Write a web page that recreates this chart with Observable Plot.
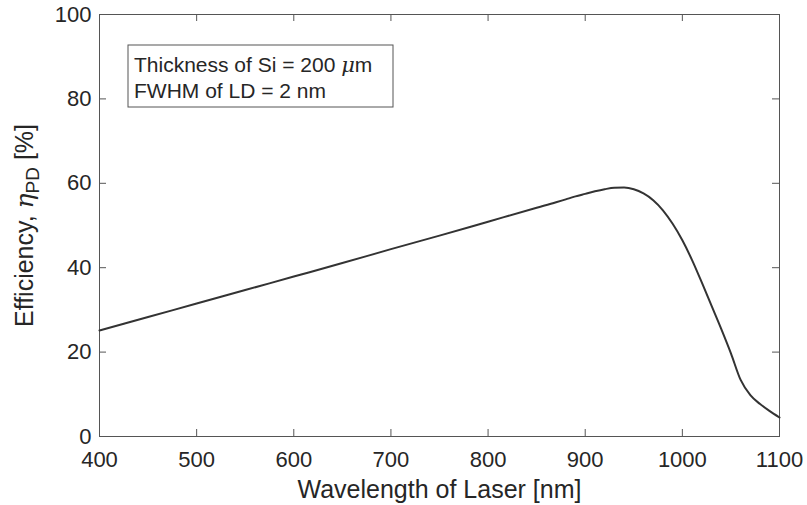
<!DOCTYPE html>
<html>
<head>
<meta charset="utf-8">
<script src="https://cdn.jsdelivr.net/npm/d3@7"></script>
<script src="https://cdn.jsdelivr.net/npm/@observablehq/plot@0.6"></script>
<style>
  html, body { margin: 0; padding: 0; background: #fff; }
  #chart svg { display: block; }
</style>
</head>
<body>
<div id="chart"></div>
<script>
// Data
const wavelength = [400, 450, 500, 550, 600, 650, 700, 750, 800, 850, 870, 880, 890, 900, 910, 920, 930, 940, 950, 960, 970, 980, 990, 1000, 1010, 1020, 1030, 1040, 1050, 1060, 1070, 1080, 1090, 1100];
const efficiency = [25.1, 28.3, 31.5, 34.7, 37.9, 41.1, 44.4, 47.6, 50.9, 54.2, 55.5, 56.2, 56.9, 57.5, 58.1, 58.6, 58.95, 59.0, 58.6, 57.6, 56.0, 53.6, 50.4, 46.5, 41.8, 36.5, 31.0, 25.5, 19.7, 13.4, 9.8, 7.7, 6.0, 4.5];
const xTicks = [400, 500, 600, 700, 800, 900, 1000, 1100];
const yTicks = [0, 20, 40, 60, 80, 100];
const xLabel = "Wavelength of Laser [nm]";
const yLabel = "Efficiency, ηPD [%]";
const legendLines = ["Thickness of Si = 200 μm", "FWHM of LD = 2 nm"];

const data = wavelength.map((w, i) => ({w, e: efficiency[i]}));
const axisColor = "#555";
const textColor = "#262626";
const font = "'Liberation Sans', Arial, Helvetica, sans-serif";

const W = 807, H = 505, mL = 99, mR = 28, mT = 14, mB = 69;
const plotW = W - mL - mR, plotH = H - mT - mB, tick = 7;
const xDom = [400, 1100], yDom = [0, 100];
// tick length expressed in data units of each scale
const tX = tick * (xDom[1] - xDom[0]) / plotW;
const tY = tick * (yDom[1] - yDom[0]) / plotH;

const chart = Plot.plot({
  width: W,
  height: H,
  marginLeft: mL,
  marginRight: mR,
  marginTop: mT,
  marginBottom: mB,
  style: {fontFamily: font, color: textColor, background: "#fff"},
  x: {domain: xDom},
  y: {domain: yDom},
  marks: [
    // inward ticks on all four sides
    Plot.ruleX(xTicks, {x: d => d, y1: yDom[0], y2: yDom[0] + tY, stroke: axisColor}),
    Plot.ruleX(xTicks, {x: d => d, y1: yDom[1] - tY, y2: yDom[1], stroke: axisColor}),
    Plot.ruleY(yTicks, {y: d => d, x1: xDom[0], x2: xDom[0] + tX, stroke: axisColor}),
    Plot.ruleY(yTicks, {y: d => d, x1: xDom[1] - tX, x2: xDom[1], stroke: axisColor}),
    Plot.frame({stroke: axisColor, strokeWidth: 1}),
    Plot.axisX({anchor: "bottom", ticks: xTicks, tickSize: 0, tickPadding: 15, fontSize: 22, fill: textColor, label: null, tickFormat: d => String(d)}),
    Plot.axisY({anchor: "left", ticks: yTicks, tickSize: 0, tickPadding: 8, fontSize: 22, fill: textColor, label: null, tickFormat: d => String(d)}),
    Plot.line(data, {x: "w", y: "e", stroke: "#333", strokeWidth: 2, curve: "monotone-x"}),
    Plot.text([xLabel], {frameAnchor: "bottom", dy: 61, fontSize: 25, fill: textColor}),
    Plot.text([yLabel], {frameAnchor: "left", textAnchor: "middle", dx: -75, rotate: -90, fontSize: 25, fill: textColor})
  ]
});

document.getElementById("chart").appendChild(chart);

// Rich text for the y label: italic eta with PD subscript
const svg = d3.select(chart);
svg.selectAll("text").filter(function() { return this.textContent === yLabel; }).each(function() {
  const t = d3.select(this);
  t.text(null);
  t.append("tspan").text("Efficiency, ");
  t.append("tspan").attr("font-style", "italic").attr("font-family", "'DejaVu Serif', serif").text("η");
  t.append("tspan").attr("font-size", 19).attr("dy", 6).text("PD");
  t.append("tspan").attr("dy", -6).text(" [%]");
});

// Annotation box in the upper left of the axes
const g = svg.append("g").attr("font-family", font).attr("font-size", 21)
  .attr("fill", textColor).attr("text-anchor", "start");
g.append("rect").attr("x", 128).attr("y", 45).attr("width", 265).attr("height", 62)
  .attr("fill", "#fff").attr("stroke", axisColor).attr("stroke-width", 1);
const t1 = g.append("text").attr("x", 134).attr("y", 72);
t1.append("tspan").text("Thickness of Si = 200 ");
t1.append("tspan").attr("font-style", "italic").attr("font-family", "'DejaVu Serif', serif").text("μ");
t1.append("tspan").text("m");
g.append("text").attr("x", 134).attr("y", 98).text(legendLines[1]);
</script>
</body>
</html>
